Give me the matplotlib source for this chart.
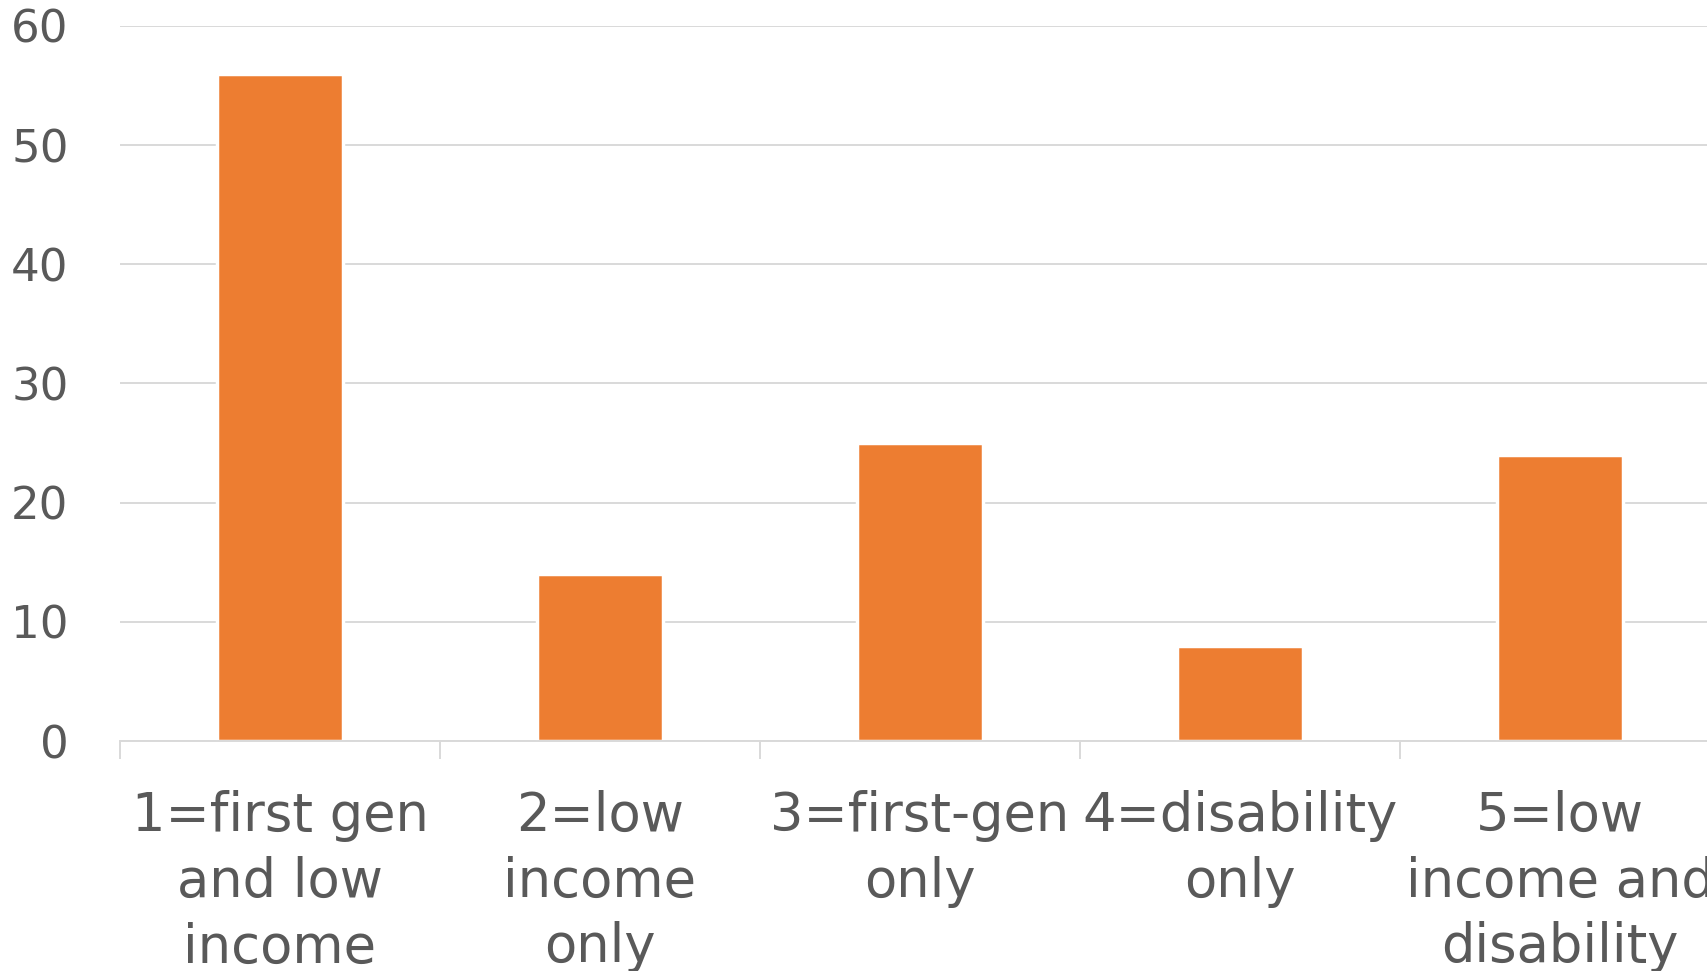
import numpy as np
import matplotlib.pyplot as plt

categories = ["1=first gen\nand low\nincome", "2=low\nincome\nonly", "3=first-gen\nonly",
              "4=disability\nonly", "5=low\nincome and\ndisability"]
values = [56, 14, 25, 8, 24]
y_ticks = [0, 10, 20, 30, 40, 50, 60]

text_color = "#595959"
grid_color = "#d9d9d9"
bar_color = "#ED7D31"

fig = plt.figure(figsize=(17.08, 9.71), dpi=100)
ax = fig.add_axes([120 / 1708, 230 / 971, 1600 / 1708, 715 / 971])

x = np.arange(len(categories))
ax.bar(x, values, width=0.395, color=bar_color, edgecolor="white", linewidth=2.5, zorder=3)

ax.set_xlim(-0.5, len(categories) - 0.5)
ax.set_ylim(0, 60)
ax.set_yticks(y_ticks)
ax.set_yticklabels([str(v) for v in y_ticks])
ax.yaxis.grid(True, color=grid_color, linewidth=1.4, zorder=0)
ax.set_axisbelow(True)

for s in ["top", "right", "left"]:
    ax.spines[s].set_visible(False)
ax.spines["bottom"].set_color(grid_color)
ax.spines["bottom"].set_linewidth(1.4)
ax.spines["bottom"].set_zorder(4)

ax.set_xticks(x)
ax.set_xticklabels(categories, linespacing=1.34)
ax.set_xticks(np.arange(len(categories)) - 0.5, minor=True)
ax.tick_params(axis="x", which="major", length=0, pad=35, labelsize=38, labelcolor=text_color)
ax.tick_params(axis="x", which="minor", length=13, width=1.4, color=grid_color)
ax.tick_params(axis="y", length=0, pad=37, labelsize=32.5, labelcolor=text_color)

fig.savefig("out.png", dpi=100)
